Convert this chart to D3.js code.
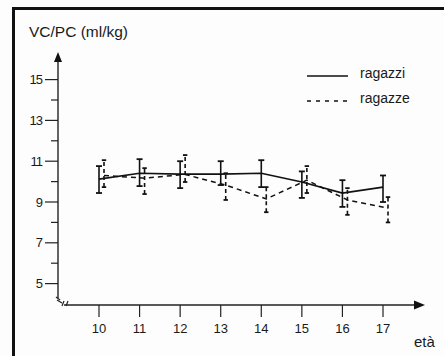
<!DOCTYPE html>
<html>
<head>
<meta charset="utf-8">
<script src="https://cdn.jsdelivr.net/npm/d3@7"></script>
<style>
  body { margin: 0; background: #fdfdfd; }
  text { font-family: "Liberation Sans", Arial, sans-serif; fill: #1a1a1a; }
</style>
</head>
<body>
<div id="chart"></div>
<script>
// ages on x
let ages = [10, 11, 12, 13, 14, 15, 16, 17];
// ragazzi (boys): mean, low, high
let boysMean = [10.12, 10.41, 10.37, 10.37, 10.41, 9.98, 9.44, 9.73];
let boysLow  = [9.44, 9.78, 9.68, 9.83, 9.73, 9.2, 8.76, 9.0];
let boysHigh = [10.76, 11.1, 11.0, 11.0, 11.05, 10.5, 10.07, 10.3];
// ragazze (girls)
let girlsMean = [10.3, 10.17, 10.35, 9.83, 9.15, 10.07, 9.1, 8.7];
let girlsLow  = [9.73, 9.39, 9.98, 9.1, 8.5, 9.44, 8.37, 8.0];
let girlsHigh = [11.05, 10.66, 11.3, 10.41, 9.73, 10.76, 9.68, 9.24];
let yTicks = [5, 6, 7, 8, 9, 10, 11, 12, 13, 14, 15];
let yLabels = [5, 7, 9, 11, 13, 15];

let width = 444, height = 356;
let svg = d3.select('#chart').append('svg')
  .attr('width', width)
  .attr('height', height);

// frame (only top and left visible)
svg.append('path')
  .attr('d', 'M13.5,360 L13.5,8.5 L450,8.5')
  .attr('fill', 'none')
  .attr('stroke', '#111')
  .attr('stroke-width', 3);

let x = d3.scaleLinear().domain([10, 17]).range([99, 383]);
let y = d3.scaleLinear().domain([5, 15]).range([283.6, 79.6]);

let axisX = 58, axisY = 305;
let g = svg.append('g');

// y axis
g.append('line')
  .attr('x1', axisX).attr('x2', axisX)
  .attr('y1', 298).attr('y2', 60)
  .attr('stroke', '#222').attr('stroke-width', 1.4);
g.append('path')
  .attr('d', `M${axisX},52 L${axisX - 4},62 L${axisX + 4},62 Z`)
  .attr('fill', '#111');

g.selectAll('.ytick')
  .data(yTicks)
  .enter()
  .append('line')
  .attr('x1', d => yLabels.includes(d) ? axisX - 13 : axisX - 7)
  .attr('x2', axisX)
  .attr('y1', d => y(d)).attr('y2', d => y(d))
  .attr('stroke', '#222').attr('stroke-width', 1.2);

g.selectAll('.ylab')
  .data(yLabels)
  .enter()
  .append('text')
  .attr('x', axisX - 16)
  .attr('y', d => y(d) + 4.5)
  .attr('text-anchor', 'end')
  .attr('font-size', 13)
  .attr('letter-spacing', -1)
  .text(d => d);

// x axis
g.append('line')
  .attr('x1', 64).attr('x2', 416)
  .attr('y1', axisY).attr('y2', axisY)
  .attr('stroke', '#222').attr('stroke-width', 1.4);
g.append('path')
  .attr('d', `M425,${axisY} L414,${axisY - 4.5} L414,${axisY + 4.5} Z`)
  .attr('fill', '#111');

g.selectAll('.xtick')
  .data(ages)
  .enter()
  .append('line')
  .attr('x1', d => x(d)).attr('x2', d => x(d))
  .attr('y1', axisY).attr('y2', axisY + 12)
  .attr('stroke', '#222').attr('stroke-width', 1.2);

g.selectAll('.xlab')
  .data(ages)
  .enter()
  .append('text')
  .attr('x', d => x(d))
  .attr('y', 333)
  .attr('text-anchor', 'middle')
  .attr('font-size', 13)
  .text(d => d);

// axis break marks
[[56, 297, 60, 300], [57, 300, 62, 303], [62, 306, 64, 301], [66, 306, 68, 301]].forEach(s => {
  g.append('line')
    .attr('x1', s[0]).attr('y1', s[1]).attr('x2', s[2]).attr('y2', s[3])
    .attr('stroke', '#222').attr('stroke-width', 1.2);
});

// labels
svg.append('text')
  .attr('x', 29).attr('y', 37)
  .attr('font-size', 15.5)
  .text('VC/PC (ml/kg)');
svg.append('text')
  .attr('x', 414).attr('y', 347)
  .attr('font-size', 15)
  .text('età');

// series
function drawSeries(mean, low, high, dx, dashed, cap) {
  let line = d3.line()
    .x((d, i) => x(ages[i]) + dx)
    .y(d => y(d));
  g.append('path')
    .datum(mean)
    .attr('d', line)
    .attr('fill', 'none')
    .attr('stroke', '#111')
    .attr('stroke-width', dashed ? 1.5 : 1.7)
    .attr('stroke-dasharray', dashed ? '5,4' : null);

  let bars = g.selectAll(null)
    .data(ages)
    .enter()
    .append('g');
  bars.append('line')
    .attr('x1', (d, i) => x(d) + dx).attr('x2', (d, i) => x(d) + dx)
    .attr('y1', (d, i) => y(low[i])).attr('y2', (d, i) => y(high[i]))
    .attr('stroke', '#111').attr('stroke-width', 1.6)
    .attr('stroke-dasharray', dashed ? '4,3' : null);
  bars.append('line')
    .attr('x1', (d, i) => x(d) + dx - cap).attr('x2', (d, i) => x(d) + dx + cap)
    .attr('y1', (d, i) => y(low[i])).attr('y2', (d, i) => y(low[i]))
    .attr('stroke', '#111').attr('stroke-width', 1.8);
  bars.append('line')
    .attr('x1', (d, i) => x(d) + dx - cap).attr('x2', (d, i) => x(d) + dx + cap)
    .attr('y1', (d, i) => y(high[i])).attr('y2', (d, i) => y(high[i]))
    .attr('stroke', '#111').attr('stroke-width', 1.8);
}
drawSeries(boysMean, boysLow, boysHigh, 0, false, 3);
drawSeries(girlsMean, girlsLow, girlsHigh, 5, true, 2.2);

// legend
svg.append('line')
  .attr('x1', 307).attr('x2', 348).attr('y1', 76).attr('y2', 76)
  .attr('stroke', '#111').attr('stroke-width', 1.6);
svg.append('line')
  .attr('x1', 307).attr('x2', 348).attr('y1', 101).attr('y2', 101)
  .attr('stroke', '#111').attr('stroke-width', 1.6)
  .attr('stroke-dasharray', '4,5');
svg.append('text')
  .attr('x', 360).attr('y', 78)
  .attr('font-size', 14)
  .text('ragazzi');
svg.append('text')
  .attr('x', 360).attr('y', 103)
  .attr('font-size', 14)
  .text('ragazze');
</script>
</body>
</html>
